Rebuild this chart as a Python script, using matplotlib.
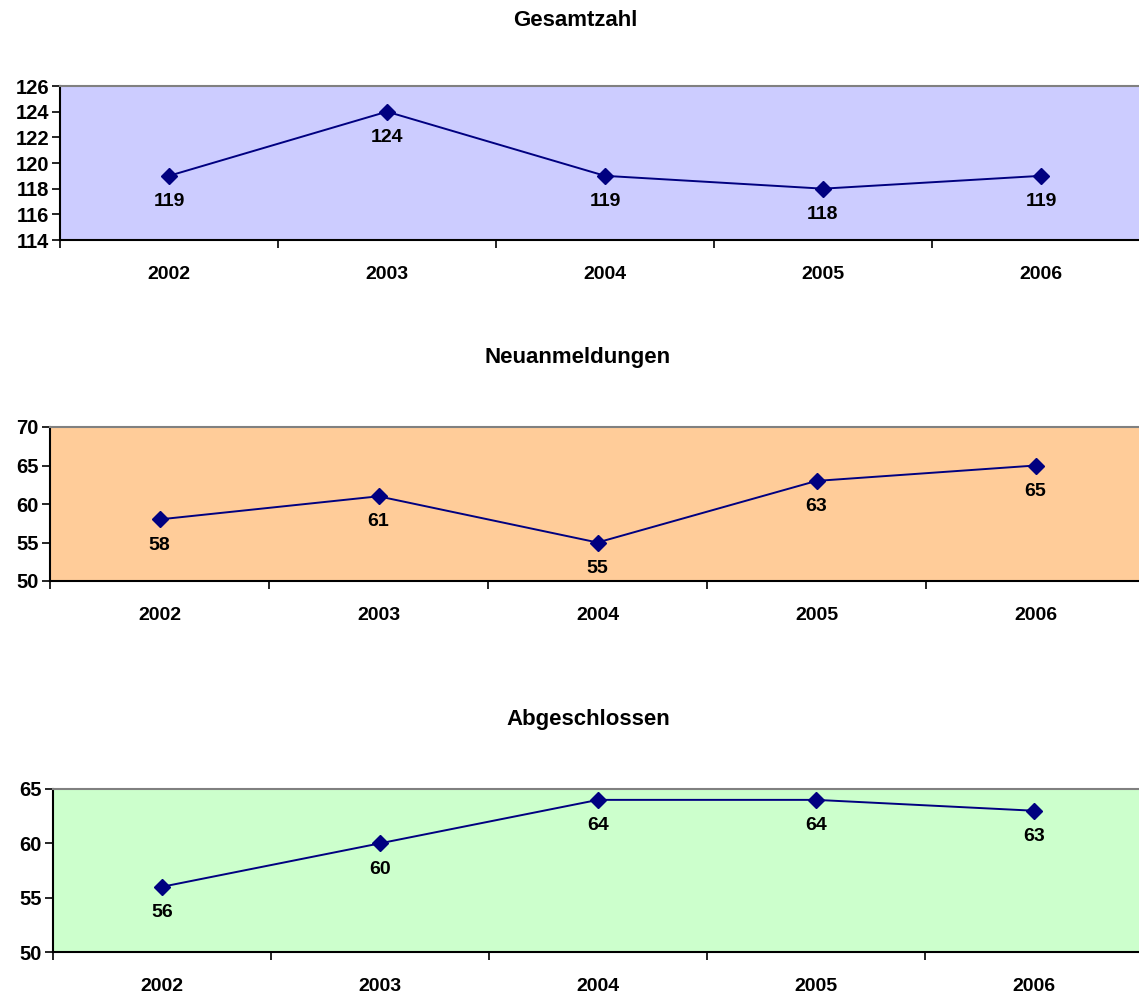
import numpy as np
import matplotlib.pyplot as plt

plt.rcParams['font.family'] = ['Liberation Sans', 'DejaVu Sans']
plt.rcParams['font.weight'] = 'bold'

years = ['2002', '2003', '2004', '2005', '2006']
gesamtzahl = [119, 124, 119, 118, 119]
neuanmeldungen = [58, 61, 55, 63, 65]
abgeschlossen = [56, 60, 64, 64, 63]

W, H = 1139, 994
fig = plt.figure(figsize=(W / 100, H / 100), dpi=100)

# (title, values, bg colour, left px, top px, bottom px, right px, ylim, ystep, title x px, title y px)
panels = [
    ('Gesamtzahl', gesamtzahl, '#CCCCFF', 60, 86, 240, 1150, (114, 126), 2, 575, 21),
    ('Neuanmeldungen', neuanmeldungen, '#FFCC99', 50, 427, 581, 1145, (50, 70), 5, 578, 358),
    ('Abgeschlossen', abgeschlossen, '#CCFFCC', 53, 789, 952, 1143, (50, 65), 5, 588, 720),
]

x = np.arange(len(years))
for title, vals, bg, left, top, bottom, right, ylim, ystep, tx, ty in panels:
    ax = fig.add_axes([left / W, 1 - bottom / H, (right - left) / W, (bottom - top) / H])
    ax.set_facecolor(bg)
    ax.plot(x, vals, color='#000080', lw=1.4, marker='D', ms=8.5, mec='#000080', mfc='#000080')
    for xi, v in zip(x, vals):
        ax.annotate(str(v), (xi, v), xytext=(0, -18.5), textcoords='offset points',
                    ha='center', va='center', fontsize=14, fontweight='bold')
    ax.set_xlim(-0.5, len(years) - 0.5)
    ax.set_ylim(*ylim)
    ax.set_yticks(np.arange(ylim[0], ylim[1] + 0.1, ystep))
    ax.set_xticks(x)
    ax.set_xticklabels(years)
    ax.set_xticks(np.arange(-0.5, len(years)), minor=True)
    ax.tick_params(axis='x', which='major', length=0, pad=18.5, labelsize=14)
    ax.tick_params(axis='x', which='minor', length=6, width=1.2, direction='out')
    ax.tick_params(axis='y', length=6, width=1.2, direction='out', labelsize=14.5, pad=2)
    for lab in ax.get_xticklabels() + ax.get_yticklabels():
        lab.set_fontweight('bold')
    ax.spines['left'].set_linewidth(1.5)
    ax.spines['bottom'].set_linewidth(1.5)
    ax.spines['top'].set_color('#808080')
    ax.spines['top'].set_linewidth(1.5)
    ax.spines['right'].set_visible(False)
    ax.spines['bottom'].set_zorder(5)
    fig.text(tx / W, 1 - ty / H, title, ha='center', va='center', fontsize=16, fontweight='bold')

fig.savefig('out.png', dpi=100)
